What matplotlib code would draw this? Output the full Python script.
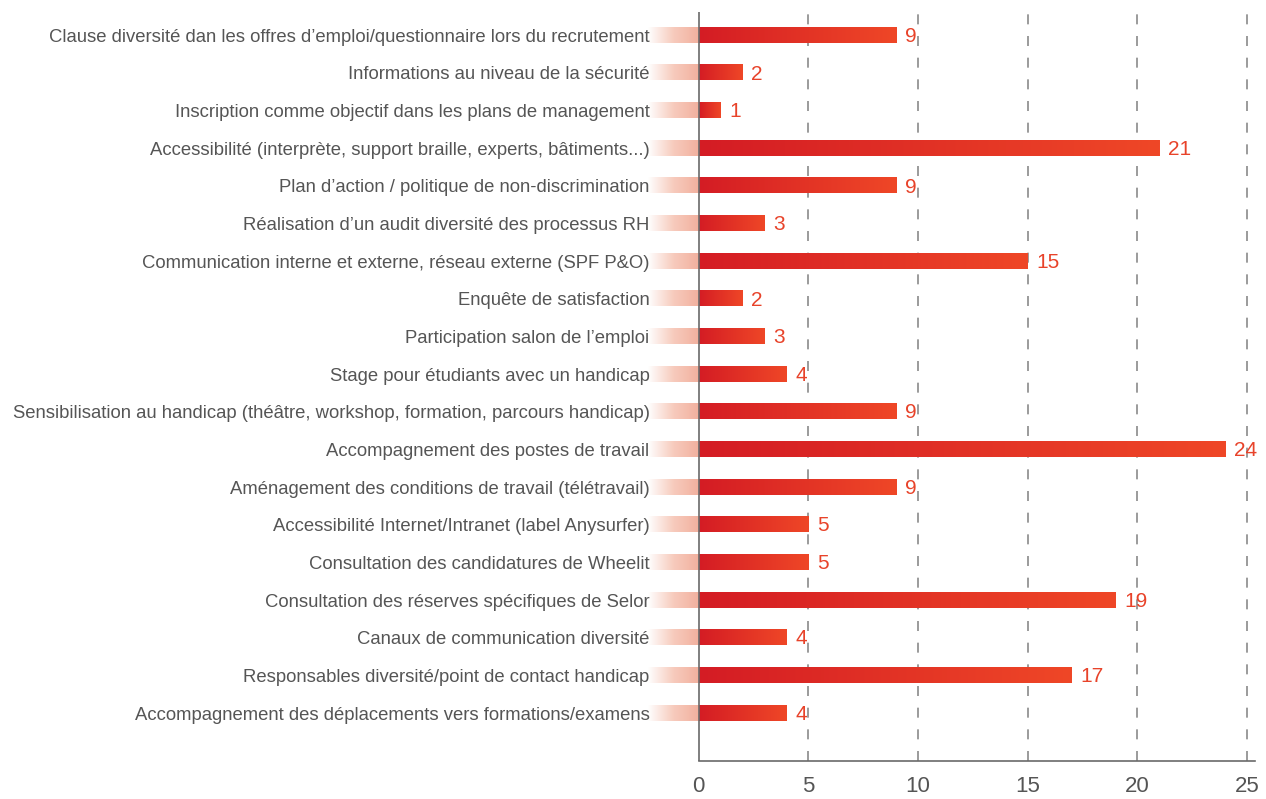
import matplotlib.pyplot as plt
import numpy as np
from matplotlib.colors import LinearSegmentedColormap

# dados do gráfico (de cima para baixo)
categorias = [
    "Clause diversité dan les offres d\u2019emploi/questionnaire lors du recrutement",
    "Informations au niveau de la sécurité",
    "Inscription comme objectif dans les plans de management",
    "Accessibilité (interprète, support braille, experts, bâtiments...)",
    "Plan d\u2019action / politique de non-discrimination",
    "Réalisation d\u2019un audit diversité des processus RH",
    "Communication interne et externe, réseau externe (SPF P&O)",
    "Enquête de satisfaction",
    "Participation salon de l\u2019emploi",
    "Stage pour étudiants avec un handicap",
    "Sensibilisation au handicap (théâtre, workshop, formation, parcours handicap)",
    "Accompagnement des postes de travail",
    "Aménagement des conditions de travail (télétravail)",
    "Accessibilité Internet/Intranet (label Anysurfer)",
    "Consultation des candidatures de Wheelit",
    "Consultation des réserves spécifiques de Selor",
    "Canaux de communication diversité",
    "Responsables diversité/point de contact handicap",
    "Accompagnement des déplacements vers formations/examens",
]
valores = [9, 2, 1, 21, 9, 3, 15, 2, 3, 4, 9, 24, 9, 5, 5, 19, 4, 17, 4]
ticks_x = [0, 5, 10, 15, 20, 25]

# degradês
cmap_barra = LinearSegmentedColormap.from_list("barra", ["#d41c24", "#ef4727"])
cmap_fundo = LinearSegmentedColormap.from_list("fundo", ["#ffffff", "#f7cbbd", "#f2b09e"])
grad = np.linspace(0, 1, 256).reshape(1, -1)

fig = plt.figure(figsize=(12.66, 7.99), dpi=100)
ax = fig.add_axes([0.512, 0.0476, 0.479, 0.937])

altura = 0.4
x_min = -2.3
for i, v in enumerate(valores):
    # faixa clara à esquerda do eixo
    ax.imshow(grad, cmap=cmap_fundo, aspect="auto", interpolation="bilinear",
              extent=(x_min, 0, i + altura / 2, i - altura / 2), zorder=1)
    # barra com degradê
    ax.imshow(grad, cmap=cmap_barra, aspect="auto", interpolation="bilinear",
              extent=(0, v, i + altura / 2, i - altura / 2), zorder=3)
    ax.text(v + 0.4, i + 0.03, str(v), ha="left", va="center", fontsize=15,
            color="#e8432a", zorder=4, family="Liberation Sans")

# linhas tracejadas
for t in ticks_x[1:]:
    ax.axvline(t, color="#8a8a8a", linestyle=(0, (6, 7)), linewidth=1.2, zorder=2)
ax.axvline(0, color="#6a6a6a", linewidth=1.2, zorder=5)

ax.set_xlim(x_min, 25.35)
ax.set_ylim(len(valores) - 1 + 1.27, -0.61)

ax.set_yticks(range(len(categorias)))
ax.set_yticklabels(categorias, family="Liberation Sans", fontsize=13.3, color="#555555")
ax.tick_params(axis="y", length=0, pad=-1)

ax.set_xticks(ticks_x)
ax.set_xticklabels([str(t) for t in ticks_x], family="Liberation Sans",
                   fontsize=16, color="#555555")
ax.tick_params(axis="x", length=0, pad=11)

for s in ["top", "right", "left"]:
    ax.spines[s].set_visible(False)
ax.spines["bottom"].set_bounds(0, 25.35)
ax.spines["bottom"].set_color("#6a6a6a")
ax.spines["bottom"].set_linewidth(1.2)

fig.savefig("out.png", dpi=100)
